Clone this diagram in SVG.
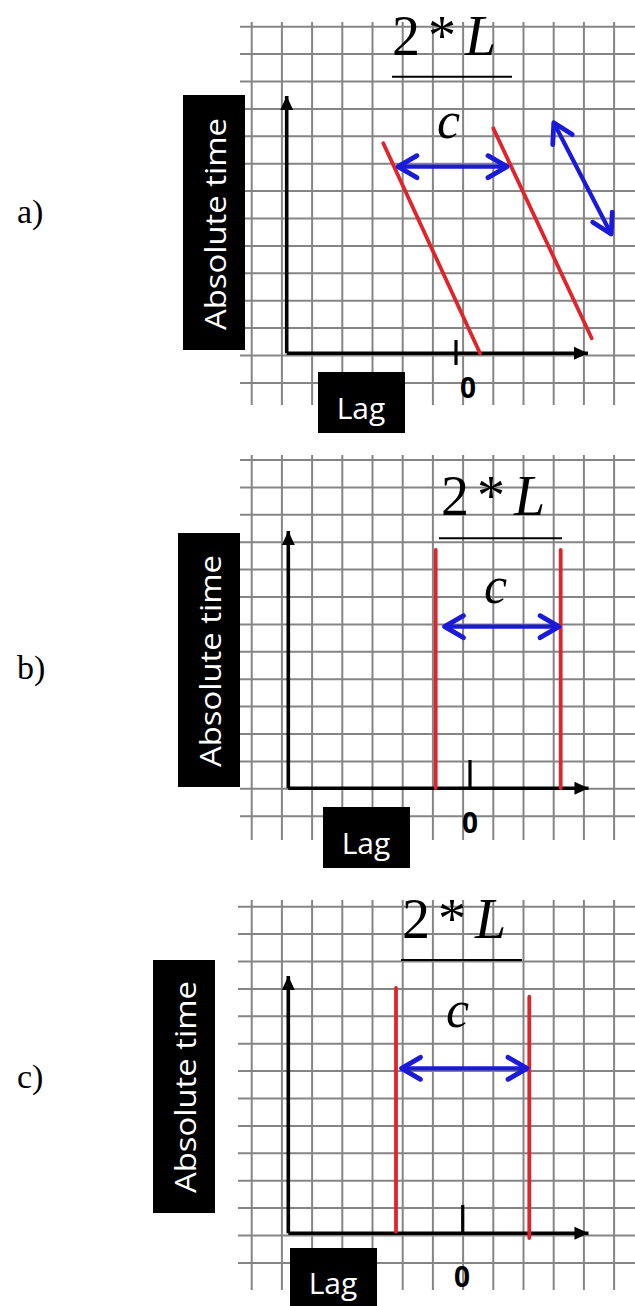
<svg xmlns="http://www.w3.org/2000/svg" width="635" height="1306" viewBox="0 0 635 1306">
  <style>
    .grid line { stroke: #858585; stroke-width: 2; }
    .axis { stroke: #000; stroke-width: 3.6; fill: none; marker-end: url(#axisHead); }
    .tick { stroke: #000; stroke-width: 3.2; }
    .red { stroke: #e0242c; stroke-width: 3.8; stroke-linecap: round; }
    .blue { stroke: #1a1ad8; stroke-width: 4.2; fill: none; marker-start: url(#chev); marker-end: url(#chev); }
    .under { stroke: #000; stroke-width: 2; }
    .title { font-family: "Liberation Serif", "Times New Roman", serif; font-size: 56px; fill: #000; }
    .cvar { font-family: "Liberation Serif", "Times New Roman", serif; font-size: 52px; font-style: italic; fill: #000; }
    .panel { font-family: "Liberation Serif", "Times New Roman", serif; font-size: 34px; fill: #000; }
    .zero { font-family: "Open Sans", "Liberation Sans", sans-serif; font-weight: bold; fill: #000; text-anchor: middle; }
    .box { fill: #000; }
    .boxtxt { font-family: "Open Sans", "Liberation Sans", sans-serif; fill: #fff; text-anchor: middle; }
  </style>
  <defs>
    <marker id="axisHead" markerUnits="userSpaceOnUse" viewBox="-15 -8 16 16" refX="0" refY="0" markerWidth="16" markerHeight="16" orient="auto">
      <path d="M -14 -6.5 L 0 0 L -14 6.5 Z" fill="#000"/>
    </marker>
    <marker id="chev" markerUnits="userSpaceOnUse" viewBox="-26 -16 32 32" refX="0" refY="0" markerWidth="32" markerHeight="32" orient="auto-start-reverse">
      <path d="M -19 -11 L 0 0 L -19 11" fill="none" stroke="#1a1ad8" stroke-width="4.8" stroke-linejoin="round" stroke-linecap="round"/>
    </marker>
  </defs>

  <rect width="635" height="1306" fill="#fff"/>

  <!-- Panel a -->
  <g id="panel-a">
    <g class="grid" id="grid-a">
      <line x1="251.7" y1="22" x2="251.7" y2="405"/>
      <line x1="281.9" y1="22" x2="281.9" y2="405"/>
      <line x1="312.1" y1="22" x2="312.1" y2="405"/>
      <line x1="342.3" y1="22" x2="342.3" y2="405"/>
      <line x1="372.5" y1="22" x2="372.5" y2="405"/>
      <line x1="402.7" y1="22" x2="402.7" y2="405"/>
      <line x1="432.9" y1="22" x2="432.9" y2="405"/>
      <line x1="463.1" y1="22" x2="463.1" y2="405"/>
      <line x1="493.3" y1="22" x2="493.3" y2="405"/>
      <line x1="523.5" y1="22" x2="523.5" y2="405"/>
      <line x1="553.7" y1="22" x2="553.7" y2="405"/>
      <line x1="583.9" y1="22" x2="583.9" y2="405"/>
      <line x1="614.1" y1="22" x2="614.1" y2="405"/>
      <line x1="240" y1="26.7" x2="635" y2="26.7"/>
      <line x1="240" y1="54.1" x2="635" y2="54.1"/>
      <line x1="240" y1="81.5" x2="635" y2="81.5"/>
      <line x1="240" y1="108.9" x2="635" y2="108.9"/>
      <line x1="240" y1="136.3" x2="635" y2="136.3"/>
      <line x1="240" y1="163.7" x2="635" y2="163.7"/>
      <line x1="240" y1="191.1" x2="635" y2="191.1"/>
      <line x1="240" y1="218.5" x2="635" y2="218.5"/>
      <line x1="240" y1="245.9" x2="635" y2="245.9"/>
      <line x1="240" y1="273.3" x2="635" y2="273.3"/>
      <line x1="240" y1="300.7" x2="635" y2="300.7"/>
      <line x1="240" y1="328.1" x2="635" y2="328.1"/>
      <line x1="240" y1="355.5" x2="635" y2="355.5"/>
      <line x1="240" y1="382.9" x2="635" y2="382.9"/>
    </g>
    <text class="panel" x="17" y="223">a)</text>
    <g id="title-a">
      <text class="title" y="55"><tspan x="392">2</tspan><tspan x="428">*</tspan><tspan x="465" font-style="italic">L</tspan></text>
      <line class="under" x1="392" y1="76.7" x2="512" y2="76.7"/>
    </g>
    <g id="ylabel-a">
      <rect class="box" x="183" y="95" width="62" height="255"/>
      <text class="boxtxt" font-size="29" transform="translate(226,224) rotate(-90)" textLength="212" lengthAdjust="spacingAndGlyphs">Absolute  time</text>
    </g>
    <g id="xlabel-a">
      <rect class="box" x="318" y="372" width="87" height="61"/>
      <text class="boxtxt" font-size="30" x="361" y="419">Lag</text>
    </g>
    <g id="axes-a">
      <path class="axis" d="M 286.7 353.3 L 286.7 96"/>
      <path class="axis" d="M 286.7 353.3 L 588 353.3"/>
      <line class="tick" x1="456" y1="340" x2="456" y2="365"/>
      <text class="zero" font-size="28" x="468" y="398">0</text>
    </g>
    <line class="red" x1="383.3" y1="143.3" x2="480" y2="353.3"/>
    <line class="red" x1="493.3" y1="128.3" x2="591.7" y2="338.3"/>
    <text class="cvar" x="437" y="138">c</text>
  </g>

  <!-- Panel b -->
  <g id="panel-b">
    <g class="grid" id="grid-b">
      <line x1="251.7" y1="455" x2="251.7" y2="840"/>
      <line x1="281.9" y1="455" x2="281.9" y2="840"/>
      <line x1="312.1" y1="455" x2="312.1" y2="840"/>
      <line x1="342.3" y1="455" x2="342.3" y2="840"/>
      <line x1="372.5" y1="455" x2="372.5" y2="840"/>
      <line x1="402.7" y1="455" x2="402.7" y2="840"/>
      <line x1="432.9" y1="455" x2="432.9" y2="840"/>
      <line x1="463.1" y1="455" x2="463.1" y2="840"/>
      <line x1="493.3" y1="455" x2="493.3" y2="840"/>
      <line x1="523.5" y1="455" x2="523.5" y2="840"/>
      <line x1="553.7" y1="455" x2="553.7" y2="840"/>
      <line x1="583.9" y1="455" x2="583.9" y2="840"/>
      <line x1="614.1" y1="455" x2="614.1" y2="840"/>
      <line x1="240" y1="460" x2="635" y2="460"/>
      <line x1="240" y1="487.4" x2="635" y2="487.4"/>
      <line x1="240" y1="514.8" x2="635" y2="514.8"/>
      <line x1="240" y1="542.2" x2="635" y2="542.2"/>
      <line x1="240" y1="569.6" x2="635" y2="569.6"/>
      <line x1="240" y1="597" x2="635" y2="597"/>
      <line x1="240" y1="624.4" x2="635" y2="624.4"/>
      <line x1="240" y1="651.8" x2="635" y2="651.8"/>
      <line x1="240" y1="679.2" x2="635" y2="679.2"/>
      <line x1="240" y1="706.6" x2="635" y2="706.6"/>
      <line x1="240" y1="734" x2="635" y2="734"/>
      <line x1="240" y1="761.4" x2="635" y2="761.4"/>
      <line x1="240" y1="788.8" x2="635" y2="788.8"/>
      <line x1="240" y1="816.2" x2="635" y2="816.2"/>
    </g>
    <text class="panel" x="17" y="679">b)</text>
    <g id="title-b">
      <text class="title" y="515"><tspan x="441">2</tspan><tspan x="477">*</tspan><tspan x="514" font-style="italic">L</tspan></text>
      <line class="under" x1="439" y1="538.3" x2="562" y2="538.3"/>
    </g>
    <g id="ylabel-b">
      <rect class="box" x="178" y="533" width="62" height="254"/>
      <text class="boxtxt" font-size="29" transform="translate(221,661) rotate(-90)" textLength="212" lengthAdjust="spacingAndGlyphs">Absolute  time</text>
    </g>
    <g id="xlabel-b">
      <rect class="box" x="323" y="807" width="87" height="61"/>
      <text class="boxtxt" font-size="30" x="366" y="854">Lag</text>
    </g>
    <g id="axes-b">
      <path class="axis" d="M 288.3 788.3 L 288.3 531"/>
      <path class="axis" d="M 288.3 788.3 L 588.5 788.3"/>
      <line class="tick" x1="470" y1="760" x2="470" y2="788"/>
      <text class="zero" font-size="28" x="470" y="833">0</text>
    </g>
    <line class="red" x1="435.7" y1="550" x2="435.7" y2="788"/>
    <line class="red" x1="560.7" y1="550" x2="560.7" y2="788"/>
    <text class="cvar" x="484" y="603">c</text>
  </g>

  <!-- Panel c -->
  <g id="panel-c">
    <g class="grid" id="grid-c">
      <line x1="251.7" y1="900" x2="251.7" y2="1290"/>
      <line x1="281.9" y1="900" x2="281.9" y2="1290"/>
      <line x1="312.1" y1="900" x2="312.1" y2="1290"/>
      <line x1="342.3" y1="900" x2="342.3" y2="1290"/>
      <line x1="372.5" y1="900" x2="372.5" y2="1290"/>
      <line x1="402.7" y1="900" x2="402.7" y2="1290"/>
      <line x1="432.9" y1="900" x2="432.9" y2="1290"/>
      <line x1="463.1" y1="900" x2="463.1" y2="1290"/>
      <line x1="493.3" y1="900" x2="493.3" y2="1290"/>
      <line x1="523.5" y1="900" x2="523.5" y2="1290"/>
      <line x1="553.7" y1="900" x2="553.7" y2="1290"/>
      <line x1="583.9" y1="900" x2="583.9" y2="1290"/>
      <line x1="614.1" y1="900" x2="614.1" y2="1290"/>
      <line x1="238" y1="906.7" x2="635" y2="906.7"/>
      <line x1="238" y1="934.1" x2="635" y2="934.1"/>
      <line x1="238" y1="961.5" x2="635" y2="961.5"/>
      <line x1="238" y1="988.9" x2="635" y2="988.9"/>
      <line x1="238" y1="1016.3" x2="635" y2="1016.3"/>
      <line x1="238" y1="1043.7" x2="635" y2="1043.7"/>
      <line x1="238" y1="1071.1" x2="635" y2="1071.1"/>
      <line x1="238" y1="1098.5" x2="635" y2="1098.5"/>
      <line x1="238" y1="1125.9" x2="635" y2="1125.9"/>
      <line x1="238" y1="1153.3" x2="635" y2="1153.3"/>
      <line x1="238" y1="1180.7" x2="635" y2="1180.7"/>
      <line x1="238" y1="1208.1" x2="635" y2="1208.1"/>
      <line x1="238" y1="1235.5" x2="635" y2="1235.5"/>
      <line x1="238" y1="1262.9" x2="635" y2="1262.9"/>
    </g>
    <text class="panel" x="17" y="1088">c)</text>
    <g id="title-c">
      <text class="title" y="938"><tspan x="402">2</tspan><tspan x="438">*</tspan><tspan x="475" font-style="italic">L</tspan></text>
      <line class="under" x1="401" y1="960" x2="522" y2="960"/>
    </g>
    <g id="ylabel-c">
      <rect class="box" x="153" y="960" width="62" height="253"/>
      <text class="boxtxt" font-size="29" transform="translate(196,1087) rotate(-90)" textLength="212" lengthAdjust="spacingAndGlyphs">Absolute  time</text>
    </g>
    <g id="xlabel-c">
      <rect class="box" x="290" y="1248" width="87" height="58"/>
      <text class="boxtxt" font-size="30" x="333" y="1294">Lag</text>
    </g>
    <g id="axes-c">
      <path class="axis" d="M 288.3 1233.3 L 288.3 976"/>
      <path class="axis" d="M 288.3 1233.3 L 588.5 1233.3"/>
      <line class="tick" x1="462.7" y1="1205" x2="462.7" y2="1233"/>
      <text class="zero" font-size="28" x="462" y="1287">0</text>
    </g>
    <line class="red" x1="396" y1="988" x2="396" y2="1231.7"/>
    <line class="red" x1="529.3" y1="996.7" x2="529.3" y2="1238"/>
    <text class="cvar" x="446" y="1027">c</text>
  </g>

  <!-- Connectors (blue double-headed arrows) -->
  <g id="connectors">
    <line class="blue" x1="398" y1="166.7" x2="507" y2="166.7"/>
    <line class="blue" x1="553.8" y1="122.7" x2="611.2" y2="234"/>
    <line class="blue" x1="444.5" y1="626.7" x2="559" y2="626.7"/>
    <line class="blue" x1="401.5" y1="1068.3" x2="527" y2="1068.3"/>
  </g>
</svg>
